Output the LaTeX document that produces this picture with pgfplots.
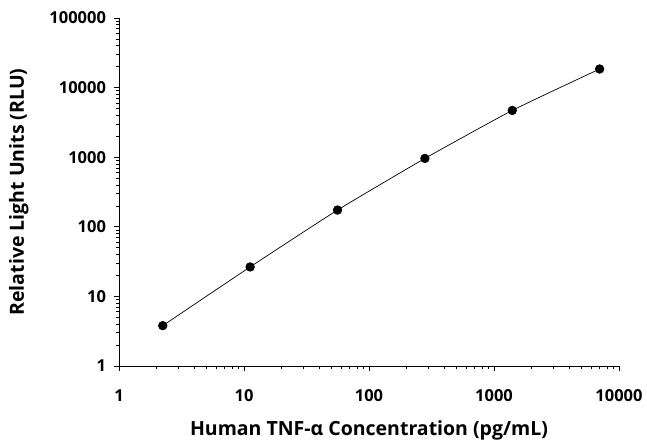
\documentclass[border=0pt]{standalone}
\usepackage{fontspec}
\setmainfont{Open Sans}
\usepackage{pgfplots}
\pgfplotsset{compat=1.18}

\begin{document}
\begin{tikzpicture}
% frame of the whole picture, axis box at the origin
\useasboundingbox (-119pt,-79pt) rectangle (528pt,366pt);
\begin{axis}[
  xmode=log, ymode=log,
  scale only axis,
  width=500pt, height=348pt,
  xmin=1, xmax=10000,
  ymin=1, ymax=100000,
  enlargelimits=false,
  axis x line=bottom,
  axis y line=left,
  axis line style={-, line width=0.8pt, black},
  tick align=outside,
  major tick length=5.5pt,
  minor tick length=3.5pt,
  tick style={line width=0.7pt, black},
  xtick={1,10,100,1000,10000},
  xticklabels={1,10,100,1000,10000},
  ytick={1,10,100,1000,10000,100000},
  yticklabels={1,10,100,1000,10000,100000},
  ticklabel style={font=\fontsize{16.5}{18}\selectfont\bfseries},
  xticklabel style={yshift=-15pt},
  yticklabel style={xshift=-4pt},
  xlabel={Human TNF-α Concentration (pg/mL)},
  ylabel={Relative Light Units (RLU)},
  label style={font=\fontsize{19.5}{22}\selectfont\bfseries},
  xlabel style={yshift=-12pt},
  ylabel style={yshift=14pt},
  clip=false,
]
\addplot[black, line width=0.7pt, smooth, tension=0.3,
  mark=*, mark size=4.3pt, mark options={fill=black}] coordinates {
  (2.24, 3.8)
  (11.2, 26.5)
  (56, 174)
  (280, 960)
  (1400, 4700)
  (7000, 18500)
};
\end{axis}
\end{tikzpicture}
\end{document}
